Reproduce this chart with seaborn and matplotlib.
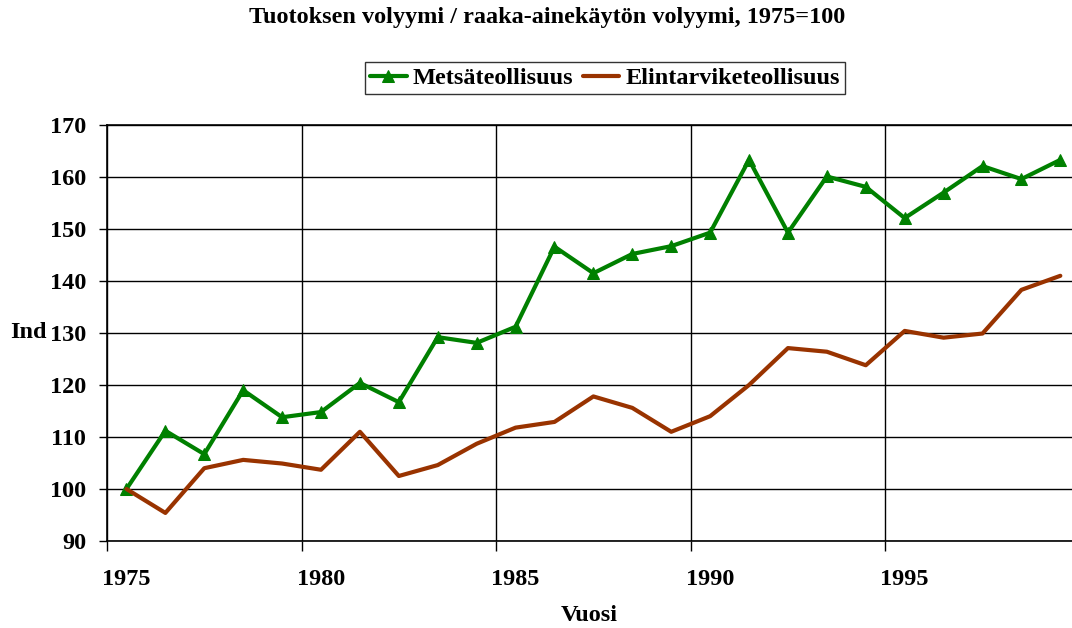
import pandas as pd
import matplotlib
matplotlib.use("Agg")
import matplotlib.pyplot as plt
import matplotlib.ticker as mticker
import seaborn as sns

# Data
years = list(range(1975, 2000))
metsa = [100.0, 111.2, 106.7, 119.0, 113.8, 114.8, 120.4, 116.7, 129.2, 128.1,
         131.2, 146.6, 141.5, 145.2, 146.7, 149.3, 163.3, 149.3, 160.1, 158.1,
         152.1, 157.0, 162.1, 159.6, 163.3]
elintarvike = [100.0, 95.4, 104.0, 105.6, 104.9, 103.7, 111.0, 102.5, 104.6, 108.7,
               111.8, 112.9, 117.8, 115.6, 111.0, 114.0, 120.0, 127.1, 126.4, 123.8,
               130.4, 129.1, 129.9, 138.3, 141.0]
tick_years = [1975, 1980, 1985, 1990, 1995]

sns.set_style("white")
plt.rcParams['font.family'] = ['Liberation Serif', 'DejaVu Serif']
plt.rcParams['font.weight'] = 'bold'
plt.rcParams['text.color'] = 'black'
plt.rcParams['xtick.color'] = 'black'
plt.rcParams['ytick.color'] = 'black'
plt.rcParams['axes.labelcolor'] = 'black'

FS = 17.5

df = pd.DataFrame({"vuosi": [y + 0.5 for y in years],
                   "Metsäteollisuus": metsa,
                   "Elintarviketeollisuus": elintarvike})

fig = plt.figure(figsize=(10.72, 6.28), dpi=100)
ax = fig.add_axes([107 / 1072, 1 - 541 / 628, 1 - 107 / 1072, (541 - 125) / 628])

sns.lineplot(data=df, x="vuosi", y="Metsäteollisuus", ax=ax, color="#008000",
             linewidth=3, marker="^", markersize=9, markeredgecolor="#008000",
             label="Metsäteollisuus")
sns.lineplot(data=df, x="vuosi", y="Elintarviketeollisuus", ax=ax, color="#993300",
             linewidth=3, label="Elintarviketeollisuus")

ax.set_xlim(1975, 1999.8)
ax.set_ylim(90, 170)
ax.yaxis.set_major_locator(mticker.MultipleLocator(10))

# gridlines / ticks on year boundaries, labels centred on the data points
ax.set_xticks(tick_years)
ax.set_xticklabels([])
ax.set_xticks([y + 0.5 for y in tick_years], minor=True)
ax.set_xticklabels([str(y) for y in tick_years], minor=True)
ax.tick_params(axis='x', which='major', direction='out', length=7, width=1, color='black', bottom=True)
ax.tick_params(axis='x', which='minor', length=0, pad=20, labelsize=FS)
ax.tick_params(axis='y', direction='out', length=6, width=1, color='black', left=True,
               labelsize=FS, pad=9)

ax.grid(True, which='major', color='black', linewidth=1)
for s in ['left', 'bottom', 'top']:
    ax.spines[s].set_color('black')
    ax.spines[s].set_linewidth(1.2)
ax.spines['right'].set_visible(False)

ax.set_xlabel("Vuosi", fontsize=FS, fontweight='bold', labelpad=11)
ax.set_ylabel("")
ax.text(-0.081, 130, "Ind", transform=ax.get_yaxis_transform(), ha='center', va='center',
        fontsize=FS, fontweight='bold')

ax.legend_.remove()
handles, labels = ax.get_legend_handles_labels()
leg = fig.legend(handles, labels, loc='center', bbox_to_anchor=(605 / 1072, 1 - 78 / 628),
                 ncol=2, frameon=True, fancybox=False, edgecolor='black',
                 prop={'size': FS, 'weight': 'bold'}, handlelength=1.5,
                 handletextpad=0.25, columnspacing=0.4, borderpad=0.2, borderaxespad=0)
leg.get_frame().set_linewidth(1.0)

fig.suptitle("Tuotoksen volyymi / raaka-ainekäytön volyymi, 1975=100",
             x=547 / 1072, y=1 - 17 / 628, va='center', fontsize=FS, fontweight='bold')

fig.savefig("out.png", dpi=100, facecolor='white')
